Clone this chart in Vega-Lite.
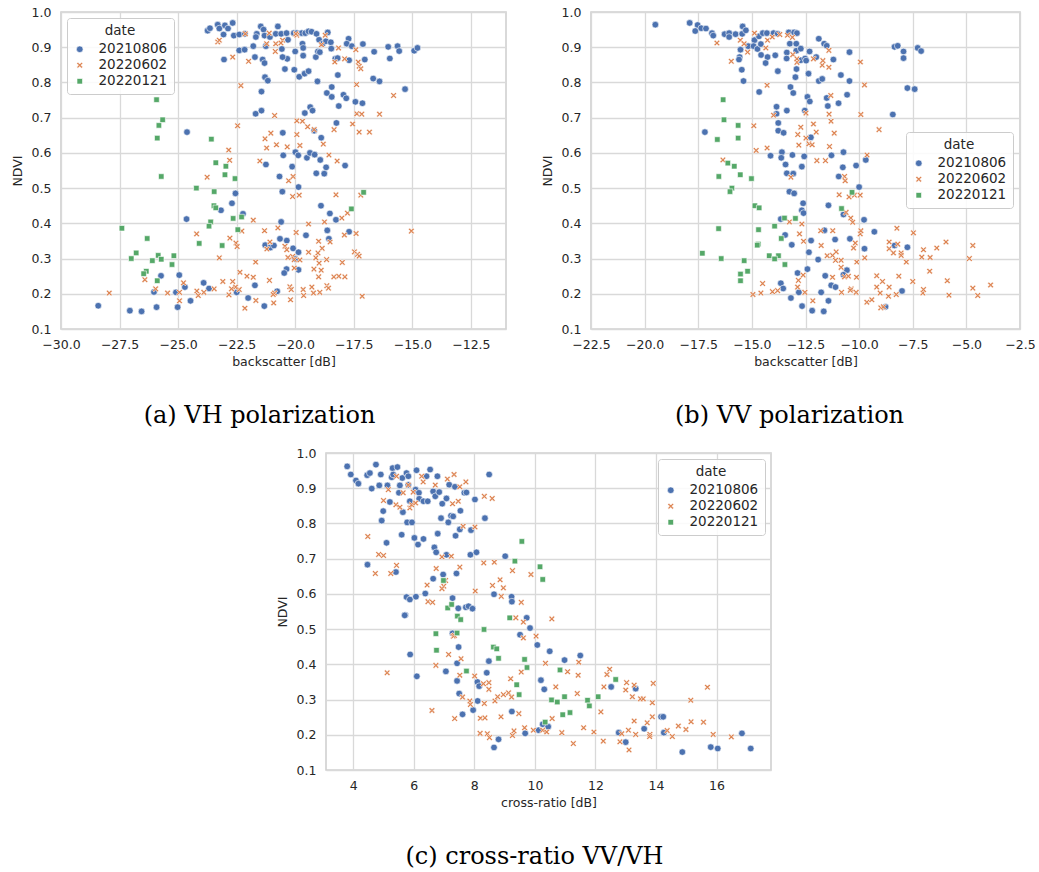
{
"$schema":"https://vega.github.io/schema/vega-lite/v6.json",
"padding":{"left":10,"top":5,"right":5,"bottom":5},
"background":"white",
"config":{
 "font":"DejaVu Sans",
 "view":{"stroke":"#d0d0d0","strokeWidth":1.6},
 "axis":{"grid":true,"gridColor":"#d9d9d9","gridWidth":1.3,"domain":false,"ticks":false,"tickSize":0,"labelFont":"DejaVu Sans","labelFontSize":12.5,"labelColor":"#262626","titleFont":"DejaVu Sans","titleFontSize":12.5,"titleFontWeight":"normal","titleColor":"#262626","labelOverlap":false,"labelFlush":false},
 "axisX":{"titlePadding":5,"labelPadding":9},
 "axisY":{"titlePadding":7,"labelPadding":10},
 "legend":{"titleFont":"DejaVu Sans","titleFontSize":13.5,"titleFontWeight":"normal","titleColor":"#262626","labelFont":"DejaVu Sans","labelFontSize":13.5,"labelColor":"#262626","titleAnchor":"middle","fillColor":"rgba(255,255,255,0.85)","strokeColor":"#cccccc","cornerRadius":3,"padding":6,"rowPadding":1,"labelOffset":12,"symbolStrokeColor":"white","symbolStrokeWidth":0.6},
 "title":{"font":"DejaVu Serif","fontSize":24,"fontWeight":"normal","color":"#000000","orient":"bottom","offset":36,"frame":"group","anchor":"middle"}
},
"resolve":{"scale":{"color":"independent","shape":"independent","size":"independent"},"legend":{"color":"independent","shape":"independent","size":"independent"}},
"spacing":17,
"vconcat":[
{"hconcat":[
{"title":{"text":"(a) VH polarization","dx":-24},"width":445,"height":317,
 "data":{"values":[
{"date":"20210806","bs":-23.74,"ndvi":0.947},{"date":"20210806","bs":-23.64,"ndvi":0.954},{"date":"20210806","bs":-23.31,"ndvi":0.964},{"date":"20210806","bs":-23.24,"ndvi":0.953},{"date":"20210806","bs":-23.0,"ndvi":0.962},{"date":"20210806","bs":-22.87,"ndvi":0.953},{"date":"20210806","bs":-22.67,"ndvi":0.969},{"date":"20210806","bs":-23.06,"ndvi":0.936},{"date":"20210806","bs":-22.62,"ndvi":0.933},{"date":"20210806","bs":-22.39,"ndvi":0.936},{"date":"20210806","bs":-22.15,"ndvi":0.938},{"date":"20210806","bs":-21.47,"ndvi":0.959},{"date":"20210806","bs":-21.35,"ndvi":0.95},{"date":"20210806","bs":-21.64,"ndvi":0.938},{"date":"20210806","bs":-21.68,"ndvi":0.929},{"date":"20210806","bs":-21.31,"ndvi":0.933},{"date":"20210806","bs":-21.08,"ndvi":0.929},{"date":"20210806","bs":-20.74,"ndvi":0.959},{"date":"20210806","bs":-20.83,"ndvi":0.938},{"date":"20210806","bs":-20.6,"ndvi":0.938},{"date":"20210806","bs":-20.37,"ndvi":0.94},{"date":"20210806","bs":-20.31,"ndvi":0.921},{"date":"20210806","bs":-20.06,"ndvi":0.94},{"date":"20210806","bs":-19.93,"ndvi":0.94},{"date":"20210806","bs":-19.72,"ndvi":0.94},{"date":"20210806","bs":-19.57,"ndvi":0.94},{"date":"20210806","bs":-19.43,"ndvi":0.945},{"date":"20210806","bs":-19.3,"ndvi":0.944},{"date":"20210806","bs":-19.09,"ndvi":0.938},{"date":"20210806","bs":-18.98,"ndvi":0.921},{"date":"20210806","bs":-18.83,"ndvi":0.91},{"date":"20210806","bs":-18.61,"ndvi":0.942},{"date":"20210806","bs":-18.69,"ndvi":0.917},{"date":"20210806","bs":-18.48,"ndvi":0.914},{"date":"20210806","bs":-17.72,"ndvi":0.924},{"date":"20210806","bs":-17.8,"ndvi":0.91},{"date":"20210806","bs":-17.58,"ndvi":0.903},{"date":"20210806","bs":-17.11,"ndvi":0.909},{"date":"20210806","bs":-20.34,"ndvi":0.867},{"date":"20210806","bs":-23.04,"ndvi":0.865},{"date":"20210806","bs":-22.39,"ndvi":0.891},{"date":"20210806","bs":-22.16,"ndvi":0.893},{"date":"20210806","bs":-21.79,"ndvi":0.903},{"date":"20210806","bs":-21.72,"ndvi":0.872},{"date":"20210806","bs":-21.39,"ndvi":0.865},{"date":"20210806","bs":-21.31,"ndvi":0.855},{"date":"20210806","bs":-21.25,"ndvi":0.903},{"date":"20210806","bs":-20.57,"ndvi":0.895},{"date":"20210806","bs":-20.54,"ndvi":0.872},{"date":"20210806","bs":-20.0,"ndvi":0.888},{"date":"20210806","bs":-19.69,"ndvi":0.91},{"date":"20210806","bs":-19.66,"ndvi":0.876},{"date":"20210806","bs":-19.66,"ndvi":0.898},{"date":"20210806","bs":-19.12,"ndvi":0.872},{"date":"20210806","bs":-19.03,"ndvi":0.888},{"date":"20210806","bs":-18.95,"ndvi":0.886},{"date":"20210806","bs":-18.46,"ndvi":0.896},{"date":"20210806","bs":-18.29,"ndvi":0.867},{"date":"20210806","bs":-18.19,"ndvi":0.869},{"date":"20210806","bs":-17.7,"ndvi":0.863},{"date":"20210806","bs":-17.03,"ndvi":0.865},{"date":"20210806","bs":-16.63,"ndvi":0.887},{"date":"20210806","bs":-16.03,"ndvi":0.901},{"date":"20210806","bs":-15.96,"ndvi":0.868},{"date":"20210806","bs":-15.63,"ndvi":0.903},{"date":"20210806","bs":-15.56,"ndvi":0.889},{"date":"20210806","bs":-14.92,"ndvi":0.89},{"date":"20210806","bs":-14.78,"ndvi":0.898},{"date":"20210806","bs":-15.31,"ndvi":0.781},{"date":"20210806","bs":-21.29,"ndvi":0.815},{"date":"20210806","bs":-21.17,"ndvi":0.805},{"date":"20210806","bs":-21.44,"ndvi":0.774},{"date":"20210806","bs":-20.44,"ndvi":0.838},{"date":"20210806","bs":-20.04,"ndvi":0.836},{"date":"20210806","bs":-19.83,"ndvi":0.816},{"date":"20210806","bs":-19.6,"ndvi":0.825},{"date":"20210806","bs":-19.43,"ndvi":0.832},{"date":"20210806","bs":-19.05,"ndvi":0.803},{"date":"20210806","bs":-18.18,"ndvi":0.821},{"date":"20210806","bs":-18.65,"ndvi":0.77},{"date":"20210806","bs":-18.44,"ndvi":0.787},{"date":"20210806","bs":-18.44,"ndvi":0.759},{"date":"20210806","bs":-17.94,"ndvi":0.765},{"date":"20210806","bs":-17.82,"ndvi":0.755},{"date":"20210806","bs":-17.43,"ndvi":0.745},{"date":"20210806","bs":-17.13,"ndvi":0.741},{"date":"20210806","bs":-18.14,"ndvi":0.733},{"date":"20210806","bs":-16.67,"ndvi":0.811},{"date":"20210806","bs":-16.4,"ndvi":0.803},{"date":"20210806","bs":-21.69,"ndvi":0.711},{"date":"20210806","bs":-21.44,"ndvi":0.72},{"date":"20210806","bs":-19.59,"ndvi":0.713},{"date":"20210806","bs":-19.36,"ndvi":0.73},{"date":"20210806","bs":-19.26,"ndvi":0.72},{"date":"20210806","bs":-19.19,"ndvi":0.663},{"date":"20210806","bs":-18.89,"ndvi":0.643},{"date":"20210806","bs":-18.24,"ndvi":0.685},{"date":"20210806","bs":-20.53,"ndvi":0.657},{"date":"20210806","bs":-20.51,"ndvi":0.593},{"date":"20210806","bs":-19.99,"ndvi":0.602},{"date":"20210806","bs":-19.87,"ndvi":0.593},{"date":"20210806","bs":-19.5,"ndvi":0.586},{"date":"20210806","bs":-19.37,"ndvi":0.6},{"date":"20210806","bs":-19.17,"ndvi":0.595},{"date":"20210806","bs":-18.93,"ndvi":0.58},{"date":"20210806","bs":-18.68,"ndvi":0.559},{"date":"20210806","bs":-17.87,"ndvi":0.564},{"date":"20210806","bs":-20.13,"ndvi":0.561},{"date":"20210806","bs":-20.67,"ndvi":0.533},{"date":"20210806","bs":-19.1,"ndvi":0.542},{"date":"20210806","bs":-18.76,"ndvi":0.541},{"date":"20210806","bs":-21.25,"ndvi":0.567},{"date":"20210806","bs":-24.62,"ndvi":0.659},{"date":"20210806","bs":-19.86,"ndvi":0.503},{"date":"20210806","bs":-20.55,"ndvi":0.49},{"date":"20210806","bs":-22.55,"ndvi":0.485},{"date":"20210806","bs":-22.7,"ndvi":0.457},{"date":"20210806","bs":-23.17,"ndvi":0.437},{"date":"20210806","bs":-22.23,"ndvi":0.427},{"date":"20210806","bs":-24.64,"ndvi":0.412},{"date":"20210806","bs":-18.52,"ndvi":0.428},{"date":"20210806","bs":-18.26,"ndvi":0.41},{"date":"20210806","bs":-18.9,"ndvi":0.45},{"date":"20210806","bs":-20.6,"ndvi":0.404},{"date":"20210806","bs":-18.63,"ndvi":0.38},{"date":"20210806","bs":-17.7,"ndvi":0.376},{"date":"20210806","bs":-19.54,"ndvi":0.366},{"date":"20210806","bs":-18.56,"ndvi":0.356},{"date":"20210806","bs":-20.65,"ndvi":0.356},{"date":"20210806","bs":-20.36,"ndvi":0.351},{"date":"20210806","bs":-21.28,"ndvi":0.338},{"date":"20210806","bs":-21.07,"ndvi":0.331},{"date":"20210806","bs":-20.91,"ndvi":0.337},{"date":"20210806","bs":-20.09,"ndvi":0.329},{"date":"20210806","bs":-19.86,"ndvi":0.318},{"date":"20210806","bs":-20.37,"ndvi":0.27},{"date":"20210806","bs":-20.47,"ndvi":0.259},{"date":"20210806","bs":-19.86,"ndvi":0.268},{"date":"20210806","bs":-20.0,"ndvi":0.299},{"date":"20210806","bs":-24.95,"ndvi":0.253},{"date":"20210806","bs":-25.73,"ndvi":0.251},{"date":"20210806","bs":-26.03,"ndvi":0.205},{"date":"20210806","bs":-25.09,"ndvi":0.204},{"date":"20210806","bs":-24.71,"ndvi":0.219},{"date":"20210806","bs":-23.91,"ndvi":0.231},{"date":"20210806","bs":-23.68,"ndvi":0.215},{"date":"20210806","bs":-22.5,"ndvi":0.204},{"date":"20210806","bs":-21.72,"ndvi":0.224},{"date":"20210806","bs":-20.77,"ndvi":0.207},{"date":"20210806","bs":-22.01,"ndvi":0.188},{"date":"20210806","bs":-24.47,"ndvi":0.18},{"date":"20210806","bs":-21.32,"ndvi":0.165},{"date":"20210806","bs":-25.92,"ndvi":0.162},{"date":"20210806","bs":-25.02,"ndvi":0.162},{"date":"20210806","bs":-27.06,"ndvi":0.152},{"date":"20210806","bs":-26.56,"ndvi":0.15},{"date":"20210806","bs":-28.41,"ndvi":0.166},
{"date":"20220602","bs":-23.31,"ndvi":0.915},{"date":"20220602","bs":-23.24,"ndvi":0.92},{"date":"20220602","bs":-22.67,"ndvi":0.872},{"date":"20220602","bs":-22.13,"ndvi":0.938},{"date":"20220602","bs":-21.99,"ndvi":0.86},{"date":"20220602","bs":-22.32,"ndvi":0.791},{"date":"20220602","bs":-22.46,"ndvi":0.677},{"date":"20220602","bs":-21.22,"ndvi":0.91},{"date":"20220602","bs":-21.11,"ndvi":0.94},{"date":"20220602","bs":-20.83,"ndvi":0.91},{"date":"20220602","bs":-20.54,"ndvi":0.92},{"date":"20220602","bs":-20.61,"ndvi":0.912},{"date":"20220602","bs":-20.85,"ndvi":0.888},{"date":"20220602","bs":-19.93,"ndvi":0.934},{"date":"20220602","bs":-19.97,"ndvi":0.938},{"date":"20220602","bs":-18.72,"ndvi":0.934},{"date":"20220602","bs":-18.88,"ndvi":0.907},{"date":"20220602","bs":-18.15,"ndvi":0.898},{"date":"20220602","bs":-18.31,"ndvi":0.858},{"date":"20220602","bs":-17.89,"ndvi":0.867},{"date":"20220602","bs":-17.41,"ndvi":0.893},{"date":"20220602","bs":-17.31,"ndvi":0.858},{"date":"20220602","bs":-17.27,"ndvi":0.846},{"date":"20220602","bs":-17.2,"ndvi":0.839},{"date":"20220602","bs":-17.38,"ndvi":0.794},{"date":"20220602","bs":-15.8,"ndvi":0.763},{"date":"20220602","bs":-19.93,"ndvi":0.691},{"date":"20220602","bs":-19.69,"ndvi":0.69},{"date":"20220602","bs":-19.47,"ndvi":0.674},{"date":"20220602","bs":-20.88,"ndvi":0.706},{"date":"20220602","bs":-19.19,"ndvi":0.666},{"date":"20220602","bs":-17.37,"ndvi":0.711},{"date":"20220602","bs":-17.16,"ndvi":0.71},{"date":"20220602","bs":-16.4,"ndvi":0.71},{"date":"20220602","bs":-17.55,"ndvi":0.682},{"date":"20220602","bs":-17.27,"ndvi":0.659},{"date":"20220602","bs":-16.83,"ndvi":0.659},{"date":"20220602","bs":-18.34,"ndvi":0.666},{"date":"20220602","bs":-21.04,"ndvi":0.656},{"date":"20220602","bs":-21.29,"ndvi":0.64},{"date":"20220602","bs":-21.22,"ndvi":0.614},{"date":"20220602","bs":-20.8,"ndvi":0.623},{"date":"20220602","bs":-20.34,"ndvi":0.617},{"date":"20220602","bs":-19.93,"ndvi":0.652},{"date":"20220602","bs":-19.8,"ndvi":0.621},{"date":"20220602","bs":-18.8,"ndvi":0.625},{"date":"20220602","bs":-18.56,"ndvi":0.594},{"date":"20220602","bs":-18.21,"ndvi":0.577},{"date":"20220602","bs":-21.51,"ndvi":0.577},{"date":"20220602","bs":-22.84,"ndvi":0.608},{"date":"20220602","bs":-22.8,"ndvi":0.579},{"date":"20220602","bs":-23.76,"ndvi":0.531},{"date":"20220602","bs":-20.28,"ndvi":0.521},{"date":"20220602","bs":-20.09,"ndvi":0.533},{"date":"20220602","bs":-20.11,"ndvi":0.476},{"date":"20220602","bs":-19.83,"ndvi":0.48},{"date":"20220602","bs":-18.26,"ndvi":0.481},{"date":"20220602","bs":-17.2,"ndvi":0.48},{"date":"20220602","bs":-15.04,"ndvi":0.378},{"date":"20220602","bs":-21.79,"ndvi":0.409},{"date":"20220602","bs":-23.6,"ndvi":0.404},{"date":"20220602","bs":-24.21,"ndvi":0.37},{"date":"20220602","bs":-22.79,"ndvi":0.358},{"date":"20220602","bs":-22.53,"ndvi":0.344},{"date":"20220602","bs":-22.48,"ndvi":0.334},{"date":"20220602","bs":-22.28,"ndvi":0.378},{"date":"20220602","bs":-21.31,"ndvi":0.379},{"date":"20220602","bs":-20.74,"ndvi":0.387},{"date":"20220602","bs":-21.08,"ndvi":0.347},{"date":"20220602","bs":-21.21,"ndvi":0.327},{"date":"20220602","bs":-20.44,"ndvi":0.335},{"date":"20220602","bs":-20.36,"ndvi":0.325},{"date":"20220602","bs":-19.96,"ndvi":0.374},{"date":"20220602","bs":-19.43,"ndvi":0.398},{"date":"20220602","bs":-18.75,"ndvi":0.404},{"date":"20220602","bs":-18.01,"ndvi":0.415},{"date":"20220602","bs":-17.77,"ndvi":0.429},{"date":"20220602","bs":-17.4,"ndvi":0.371},{"date":"20220602","bs":-17.9,"ndvi":0.367},{"date":"20220602","bs":-19.0,"ndvi":0.349},{"date":"20220602","bs":-18.85,"ndvi":0.329},{"date":"20220602","bs":-18.51,"ndvi":0.347},{"date":"20220602","bs":-19.03,"ndvi":0.316},{"date":"20220602","bs":-19.43,"ndvi":0.318},{"date":"20220602","bs":-20.31,"ndvi":0.303},{"date":"20220602","bs":-20.11,"ndvi":0.306},{"date":"20220602","bs":-20.04,"ndvi":0.297},{"date":"20220602","bs":-19.8,"ndvi":0.296},{"date":"20220602","bs":-19.12,"ndvi":0.302},{"date":"20220602","bs":-18.98,"ndvi":0.287},{"date":"20220602","bs":-18.66,"ndvi":0.297},{"date":"20220602","bs":-17.99,"ndvi":0.289},{"date":"20220602","bs":-17.47,"ndvi":0.319},{"date":"20220602","bs":-17.34,"ndvi":0.312},{"date":"20220602","bs":-17.27,"ndvi":0.307},{"date":"20220602","bs":-23.24,"ndvi":0.302},{"date":"20220602","bs":-21.69,"ndvi":0.29},{"date":"20220602","bs":-20.04,"ndvi":0.273},{"date":"20220602","bs":-19.2,"ndvi":0.27},{"date":"20220602","bs":-18.89,"ndvi":0.267},{"date":"20220602","bs":-18.35,"ndvi":0.248},{"date":"20220602","bs":-18.14,"ndvi":0.25},{"date":"20220602","bs":-17.88,"ndvi":0.248},{"date":"20220602","bs":-19.0,"ndvi":0.248},{"date":"20220602","bs":-22.36,"ndvi":0.261},{"date":"20220602","bs":-22.06,"ndvi":0.25},{"date":"20220602","bs":-21.79,"ndvi":0.247},{"date":"20220602","bs":-23.09,"ndvi":0.235},{"date":"20220602","bs":-22.67,"ndvi":0.235},{"date":"20220602","bs":-21.1,"ndvi":0.238},{"date":"20220602","bs":-18.65,"ndvi":0.223},{"date":"20220602","bs":-18.58,"ndvi":0.216},{"date":"20220602","bs":-19.29,"ndvi":0.219},{"date":"20220602","bs":-19.66,"ndvi":0.212},{"date":"20220602","bs":-20.23,"ndvi":0.22},{"date":"20220602","bs":-20.17,"ndvi":0.212},{"date":"20220602","bs":-20.2,"ndvi":0.183},{"date":"20220602","bs":-20.88,"ndvi":0.202},{"date":"20220602","bs":-20.94,"ndvi":0.198},{"date":"20220602","bs":-20.92,"ndvi":0.174},{"date":"20220602","bs":-21.68,"ndvi":0.181},{"date":"20220602","bs":-22.15,"ndvi":0.159},{"date":"20220602","bs":-22.39,"ndvi":0.212},{"date":"20220602","bs":-22.55,"ndvi":0.219},{"date":"20220602","bs":-22.72,"ndvi":0.214},{"date":"20220602","bs":-22.83,"ndvi":0.197},{"date":"20220602","bs":-23.46,"ndvi":0.214},{"date":"20220602","bs":-23.9,"ndvi":0.204},{"date":"20220602","bs":-24.2,"ndvi":0.208},{"date":"20220602","bs":-24.14,"ndvi":0.195},{"date":"20220602","bs":-24.94,"ndvi":0.204},{"date":"20220602","bs":-24.94,"ndvi":0.18},{"date":"20220602","bs":-24.77,"ndvi":0.231},{"date":"20220602","bs":-25.45,"ndvi":0.202},{"date":"20220602","bs":-25.96,"ndvi":0.214},{"date":"20220602","bs":-26.42,"ndvi":0.24},{"date":"20220602","bs":-27.94,"ndvi":0.202},{"date":"20220602","bs":-17.14,"ndvi":0.193},{"date":"20220602","bs":-19.22,"ndvi":0.202},{"date":"20220602","bs":-19.64,"ndvi":0.195},{"date":"20220602","bs":-18.95,"ndvi":0.204},
{"date":"20220121","bs":-25.92,"ndvi":0.751},{"date":"20220121","bs":-25.66,"ndvi":0.694},{"date":"20220121","bs":-25.82,"ndvi":0.678},{"date":"20220121","bs":-25.89,"ndvi":0.642},{"date":"20220121","bs":-23.58,"ndvi":0.639},{"date":"20220121","bs":-25.72,"ndvi":0.533},{"date":"20220121","bs":-23.39,"ndvi":0.572},{"date":"20220121","bs":-22.96,"ndvi":0.562},{"date":"20220121","bs":-23.0,"ndvi":0.538},{"date":"20220121","bs":-22.57,"ndvi":0.527},{"date":"20220121","bs":-24.22,"ndvi":0.5},{"date":"20220121","bs":-23.46,"ndvi":0.49},{"date":"20220121","bs":-23.47,"ndvi":0.45},{"date":"20220121","bs":-23.39,"ndvi":0.444},{"date":"20220121","bs":-23.12,"ndvi":0.337},{"date":"20220121","bs":-22.65,"ndvi":0.414},{"date":"20220121","bs":-22.29,"ndvi":0.418},{"date":"20220121","bs":-23.61,"ndvi":0.404},{"date":"20220121","bs":-23.68,"ndvi":0.392},{"date":"20220121","bs":-22.45,"ndvi":0.382},{"date":"20220121","bs":-24.1,"ndvi":0.343},{"date":"20220121","bs":-27.4,"ndvi":0.386},{"date":"20220121","bs":-26.32,"ndvi":0.357},{"date":"20220121","bs":-26.79,"ndvi":0.316},{"date":"20220121","bs":-27.0,"ndvi":0.3},{"date":"20220121","bs":-25.85,"ndvi":0.309},{"date":"20220121","bs":-25.72,"ndvi":0.298},{"date":"20220121","bs":-26.1,"ndvi":0.294},{"date":"20220121","bs":-25.18,"ndvi":0.308},{"date":"20220121","bs":-25.26,"ndvi":0.283},{"date":"20220121","bs":-26.36,"ndvi":0.264},{"date":"20220121","bs":-26.47,"ndvi":0.257},{"date":"20220121","bs":-25.89,"ndvi":0.237},{"date":"20220121","bs":-17.6,"ndvi":0.441},{"date":"20220121","bs":-17.08,"ndvi":0.488}
 ]},
 "mark":{"type":"point","filled":true,"opacity":1,"stroke":"white","strokeWidth":0.6},
 "encoding":{
  "x":{"field":"bs","type":"quantitative","scale":{"domain":[-30,-11],"nice":false,"zero":false},"axis":{"title":"backscatter [dB]","values":[-30,-27.5,-25,-22.5,-20,-17.5,-15,-12.5],"format":".1f"}},
  "y":{"field":"ndvi","type":"quantitative","scale":{"domain":[0.1,1.0],"nice":false,"zero":false},"axis":{"title":"NDVI","values":[0.1,0.2,0.3,0.4,0.5,0.6,0.7,0.8,0.9,1.0],"format":".1f"}},
  "color":{"field":"date","type":"nominal","title":"date","scale":{"domain":["20210806","20220602","20220121"],"range":["#4c72b0","#dd8452","#55a868"]},"legend":{"orient":"top-left","offset":6}},
  "shape":{"field":"date","type":"nominal","title":"date","scale":{"domain":["20210806","20220602","20220121"],"range":["circle","M-0.6,-1L0,-0.4L0.6,-1L1,-0.6L0.4,0L1,0.6L0.6,1L0,0.4L-0.6,1L-1,0.6L-0.4,0L-1,-0.6Z","square"]},"legend":{"orient":"top-left","offset":6}},
  "size":{"field":"date","type":"nominal","title":"date","scale":{"domain":["20210806","20220602","20220121"],"range":[44,30,18]},"legend":{"orient":"top-left","offset":6}}
 }
},
{"title":{"text":"(b) VV polarization","dx":-16},"width":429,"height":317,
 "data":{"values":[
{"date":"20210806","bs":-19.5,"ndvi":0.964},{"date":"20210806","bs":-17.9,"ndvi":0.969},{"date":"20210806","bs":-17.53,"ndvi":0.963},{"date":"20210806","bs":-17.64,"ndvi":0.946},{"date":"20210806","bs":-17.36,"ndvi":0.954},{"date":"20210806","bs":-17.14,"ndvi":0.953},{"date":"20210806","bs":-16.86,"ndvi":0.94},{"date":"20210806","bs":-16.8,"ndvi":0.933},{"date":"20210806","bs":-16.27,"ndvi":0.937},{"date":"20210806","bs":-16.06,"ndvi":0.94},{"date":"20210806","bs":-16.06,"ndvi":0.929},{"date":"20210806","bs":-15.76,"ndvi":0.937},{"date":"20210806","bs":-15.43,"ndvi":0.959},{"date":"20210806","bs":-15.45,"ndvi":0.938},{"date":"20210806","bs":-15.28,"ndvi":0.948},{"date":"20210806","bs":-15.53,"ndvi":0.893},{"date":"20210806","bs":-15.57,"ndvi":0.872},{"date":"20210806","bs":-15.6,"ndvi":0.865},{"date":"20210806","bs":-15.17,"ndvi":0.903},{"date":"20210806","bs":-14.88,"ndvi":0.92},{"date":"20210806","bs":-14.67,"ndvi":0.931},{"date":"20210806","bs":-14.92,"ndvi":0.903},{"date":"20210806","bs":-14.74,"ndvi":0.895},{"date":"20210806","bs":-14.58,"ndvi":0.909},{"date":"20210806","bs":-14.49,"ndvi":0.94},{"date":"20210806","bs":-14.3,"ndvi":0.94},{"date":"20210806","bs":-13.99,"ndvi":0.94},{"date":"20210806","bs":-13.8,"ndvi":0.938},{"date":"20210806","bs":-14.57,"ndvi":0.878},{"date":"20210806","bs":-14.27,"ndvi":0.872},{"date":"20210806","bs":-14.36,"ndvi":0.855},{"date":"20210806","bs":-13.91,"ndvi":0.877},{"date":"20210806","bs":-13.28,"ndvi":0.942},{"date":"20210806","bs":-13.03,"ndvi":0.942},{"date":"20210806","bs":-12.9,"ndvi":0.94},{"date":"20210806","bs":-13.23,"ndvi":0.91},{"date":"20210806","bs":-12.93,"ndvi":0.91},{"date":"20210806","bs":-13.37,"ndvi":0.885},{"date":"20210806","bs":-12.93,"ndvi":0.89},{"date":"20210806","bs":-12.72,"ndvi":0.896},{"date":"20210806","bs":-13.38,"ndvi":0.868},{"date":"20210806","bs":-12.72,"ndvi":0.863},{"date":"20210806","bs":-12.52,"ndvi":0.868},{"date":"20210806","bs":-12.47,"ndvi":0.862},{"date":"20210806","bs":-12.31,"ndvi":0.888},{"date":"20210806","bs":-12.0,"ndvi":0.872},{"date":"20210806","bs":-11.88,"ndvi":0.924},{"date":"20210806","bs":-11.63,"ndvi":0.91},{"date":"20210806","bs":-11.51,"ndvi":0.904},{"date":"20210806","bs":-11.2,"ndvi":0.865},{"date":"20210806","bs":-10.45,"ndvi":0.886},{"date":"20210806","bs":-8.35,"ndvi":0.901},{"date":"20210806","bs":-8.2,"ndvi":0.904},{"date":"20210806","bs":-7.93,"ndvi":0.888},{"date":"20210806","bs":-7.93,"ndvi":0.869},{"date":"20210806","bs":-7.27,"ndvi":0.898},{"date":"20210806","bs":-7.11,"ndvi":0.889},{"date":"20210806","bs":-15.47,"ndvi":0.836},{"date":"20210806","bs":-15.39,"ndvi":0.804},{"date":"20210806","bs":-14.66,"ndvi":0.773},{"date":"20210806","bs":-13.79,"ndvi":0.832},{"date":"20210806","bs":-12.92,"ndvi":0.838},{"date":"20210806","bs":-12.36,"ndvi":0.825},{"date":"20210806","bs":-12.97,"ndvi":0.815},{"date":"20210806","bs":-13.2,"ndvi":0.787},{"date":"20210806","bs":-13.07,"ndvi":0.77},{"date":"20210806","bs":-12.41,"ndvi":0.759},{"date":"20210806","bs":-12.3,"ndvi":0.746},{"date":"20210806","bs":-11.88,"ndvi":0.804},{"date":"20210806","bs":-11.72,"ndvi":0.81},{"date":"20210806","bs":-11.51,"ndvi":0.756},{"date":"20210806","bs":-11.46,"ndvi":0.733},{"date":"20210806","bs":-10.96,"ndvi":0.741},{"date":"20210806","bs":-10.85,"ndvi":0.821},{"date":"20210806","bs":-10.45,"ndvi":0.804},{"date":"20210806","bs":-10.56,"ndvi":0.765},{"date":"20210806","bs":-7.75,"ndvi":0.784},{"date":"20210806","bs":-7.41,"ndvi":0.781},{"date":"20210806","bs":-8.43,"ndvi":0.709},{"date":"20210806","bs":-13.85,"ndvi":0.731},{"date":"20210806","bs":-13.85,"ndvi":0.711},{"date":"20210806","bs":-13.37,"ndvi":0.72},{"date":"20210806","bs":-13.77,"ndvi":0.685},{"date":"20210806","bs":-13.77,"ndvi":0.663},{"date":"20210806","bs":-13.52,"ndvi":0.657},{"date":"20210806","bs":-12.53,"ndvi":0.72},{"date":"20210806","bs":-12.25,"ndvi":0.644},{"date":"20210806","bs":-17.19,"ndvi":0.659},{"date":"20210806","bs":-14.13,"ndvi":0.592},{"date":"20210806","bs":-13.6,"ndvi":0.602},{"date":"20210806","bs":-13.63,"ndvi":0.586},{"date":"20210806","bs":-13.11,"ndvi":0.594},{"date":"20210806","bs":-12.56,"ndvi":0.59},{"date":"20210806","bs":-13.43,"ndvi":0.567},{"date":"20210806","bs":-13.37,"ndvi":0.542},{"date":"20210806","bs":-13.07,"ndvi":0.541},{"date":"20210806","bs":-12.67,"ndvi":0.561},{"date":"20210806","bs":-11.29,"ndvi":0.593},{"date":"20210806","bs":-10.73,"ndvi":0.602},{"date":"20210806","bs":-10.76,"ndvi":0.559},{"date":"20210806","bs":-10.95,"ndvi":0.533},{"date":"20210806","bs":-10.14,"ndvi":0.564},{"date":"20210806","bs":-9.69,"ndvi":0.58},{"date":"20210806","bs":-10.0,"ndvi":0.503},{"date":"20210806","bs":-13.25,"ndvi":0.49},{"date":"20210806","bs":-13.03,"ndvi":0.485},{"date":"20210806","bs":-12.61,"ndvi":0.457},{"date":"20210806","bs":-12.67,"ndvi":0.437},{"date":"20210806","bs":-12.59,"ndvi":0.429},{"date":"20210806","bs":-11.43,"ndvi":0.451},{"date":"20210806","bs":-10.73,"ndvi":0.425},{"date":"20210806","bs":-9.77,"ndvi":0.41},{"date":"20210806","bs":-13.65,"ndvi":0.412},{"date":"20210806","bs":-13.45,"ndvi":0.367},{"date":"20210806","bs":-13.14,"ndvi":0.339},{"date":"20210806","bs":-12.24,"ndvi":0.351},{"date":"20210806","bs":-11.62,"ndvi":0.38},{"date":"20210806","bs":-11.12,"ndvi":0.354},{"date":"20210806","bs":-10.43,"ndvi":0.356},{"date":"20210806","bs":-9.29,"ndvi":0.376},{"date":"20210806","bs":-9.75,"ndvi":0.328},{"date":"20210806","bs":-8.35,"ndvi":0.337},{"date":"20210806","bs":-7.75,"ndvi":0.332},{"date":"20210806","bs":-12.34,"ndvi":0.318},{"date":"20210806","bs":-11.91,"ndvi":0.297},{"date":"20210806","bs":-12.41,"ndvi":0.27},{"date":"20210806","bs":-12.87,"ndvi":0.259},{"date":"20210806","bs":-10.57,"ndvi":0.267},{"date":"20210806","bs":-10.73,"ndvi":0.254},{"date":"20210806","bs":-11.58,"ndvi":0.251},{"date":"20210806","bs":-13.65,"ndvi":0.23},{"date":"20210806","bs":-13.54,"ndvi":0.215},{"date":"20210806","bs":-12.81,"ndvi":0.204},{"date":"20210806","bs":-11.3,"ndvi":0.224},{"date":"20210806","bs":-11.1,"ndvi":0.219},{"date":"20210806","bs":-11.77,"ndvi":0.204},{"date":"20210806","bs":-13.18,"ndvi":0.188},{"date":"20210806","bs":-11.43,"ndvi":0.18},{"date":"20210806","bs":-12.66,"ndvi":0.165},{"date":"20210806","bs":-12.19,"ndvi":0.152},{"date":"20210806","bs":-11.65,"ndvi":0.15},{"date":"20210806","bs":-8.0,"ndvi":0.208},{"date":"20210806","bs":-8.77,"ndvi":0.163},
{"date":"20220602","bs":-16.63,"ndvi":0.912},{"date":"20220602","bs":-15.96,"ndvi":0.86},{"date":"20220602","bs":-15.54,"ndvi":0.92},{"date":"20220602","bs":-15.36,"ndvi":0.91},{"date":"20220602","bs":-15.2,"ndvi":0.886},{"date":"20220602","bs":-14.88,"ndvi":0.94},{"date":"20220602","bs":-14.35,"ndvi":0.898},{"date":"20220602","bs":-14.27,"ndvi":0.92},{"date":"20220602","bs":-14.05,"ndvi":0.929},{"date":"20220602","bs":-13.7,"ndvi":0.936},{"date":"20220602","bs":-13.34,"ndvi":0.934},{"date":"20220602","bs":-13.11,"ndvi":0.928},{"date":"20220602","bs":-13.09,"ndvi":0.879},{"date":"20220602","bs":-12.9,"ndvi":0.857},{"date":"20220602","bs":-12.9,"ndvi":0.867},{"date":"20220602","bs":-12.13,"ndvi":0.867},{"date":"20220602","bs":-11.72,"ndvi":0.849},{"date":"20220602","bs":-11.69,"ndvi":0.862},{"date":"20220602","bs":-11.41,"ndvi":0.891},{"date":"20220602","bs":-11.41,"ndvi":0.843},{"date":"20220602","bs":-11.32,"ndvi":0.763},{"date":"20220602","bs":-9.94,"ndvi":0.858},{"date":"20220602","bs":-9.75,"ndvi":0.793},{"date":"20220602","bs":-14.29,"ndvi":0.792},{"date":"20220602","bs":-14.91,"ndvi":0.677},{"date":"20220602","bs":-13.99,"ndvi":0.707},{"date":"20220602","bs":-12.48,"ndvi":0.713},{"date":"20220602","bs":-11.4,"ndvi":0.71},{"date":"20220602","bs":-11.31,"ndvi":0.69},{"date":"20220602","bs":-9.92,"ndvi":0.709},{"date":"20220602","bs":-9.07,"ndvi":0.666},{"date":"20220602","bs":-12.72,"ndvi":0.673},{"date":"20220602","bs":-12.13,"ndvi":0.682},{"date":"20220602","bs":-12.0,"ndvi":0.659},{"date":"20220602","bs":-12.86,"ndvi":0.652},{"date":"20220602","bs":-11.16,"ndvi":0.656},{"date":"20220602","bs":-12.48,"ndvi":0.642},{"date":"20220602","bs":-12.81,"ndvi":0.622},{"date":"20220602","bs":-12.34,"ndvi":0.626},{"date":"20220602","bs":-12.19,"ndvi":0.623},{"date":"20220602","bs":-11.38,"ndvi":0.618},{"date":"20220602","bs":-14.29,"ndvi":0.614},{"date":"20220602","bs":-14.8,"ndvi":0.607},{"date":"20220602","bs":-16.35,"ndvi":0.58},{"date":"20220602","bs":-11.97,"ndvi":0.578},{"date":"20220602","bs":-11.57,"ndvi":0.578},{"date":"20220602","bs":-9.63,"ndvi":0.594},{"date":"20220602","bs":-13.18,"ndvi":0.531},{"date":"20220602","bs":-10.68,"ndvi":0.533},{"date":"20220602","bs":-10.65,"ndvi":0.521},{"date":"20220602","bs":-10.93,"ndvi":0.481},{"date":"20220602","bs":-10.47,"ndvi":0.475},{"date":"20220602","bs":-10.22,"ndvi":0.48},{"date":"20220602","bs":-9.95,"ndvi":0.48},{"date":"20220602","bs":-10.61,"ndvi":0.431},{"date":"20220602","bs":-10.39,"ndvi":0.415},{"date":"20220602","bs":-10.3,"ndvi":0.403},{"date":"20220602","bs":-13.25,"ndvi":0.404},{"date":"20220602","bs":-12.67,"ndvi":0.398},{"date":"20220602","bs":-12.78,"ndvi":0.37},{"date":"20220602","bs":-12.59,"ndvi":0.349},{"date":"20220602","bs":-11.79,"ndvi":0.379},{"date":"20220602","bs":-11.23,"ndvi":0.379},{"date":"20220602","bs":-11.77,"ndvi":0.337},{"date":"20220602","bs":-11.07,"ndvi":0.319},{"date":"20220602","bs":-11.24,"ndvi":0.309},{"date":"20220602","bs":-11.49,"ndvi":0.308},{"date":"20220602","bs":-10.84,"ndvi":0.295},{"date":"20220602","bs":-11.1,"ndvi":0.295},{"date":"20220602","bs":-10.84,"ndvi":0.275},{"date":"20220602","bs":-10.26,"ndvi":0.33},{"date":"20220602","bs":-10.18,"ndvi":0.344},{"date":"20220602","bs":-9.95,"ndvi":0.37},{"date":"20220602","bs":-9.92,"ndvi":0.379},{"date":"20220602","bs":-10.11,"ndvi":0.29},{"date":"20220602","bs":-9.74,"ndvi":0.302},{"date":"20220602","bs":-8.6,"ndvi":0.347},{"date":"20220602","bs":-8.6,"ndvi":0.328},{"date":"20220602","bs":-8.4,"ndvi":0.316},{"date":"20220602","bs":-8.2,"ndvi":0.341},{"date":"20220602","bs":-8.24,"ndvi":0.386},{"date":"20220602","bs":-8.04,"ndvi":0.316},{"date":"20220602","bs":-8.04,"ndvi":0.309},{"date":"20220602","bs":-7.8,"ndvi":0.29},{"date":"20220602","bs":-7.47,"ndvi":0.373},{"date":"20220602","bs":-7.0,"ndvi":0.325},{"date":"20220602","bs":-7.08,"ndvi":0.304},{"date":"20220602","bs":-6.69,"ndvi":0.303},{"date":"20220602","bs":-6.38,"ndvi":0.33},{"date":"20220602","bs":-5.95,"ndvi":0.347},{"date":"20220602","bs":-4.7,"ndvi":0.337},{"date":"20220602","bs":-4.86,"ndvi":0.3},{"date":"20220602","bs":-6.71,"ndvi":0.264},{"date":"20220602","bs":-9.18,"ndvi":0.251},{"date":"20220602","bs":-8.91,"ndvi":0.235},{"date":"20220602","bs":-8.15,"ndvi":0.25},{"date":"20220602","bs":-7.5,"ndvi":0.235},{"date":"20220602","bs":-5.89,"ndvi":0.237},{"date":"20220602","bs":-9.18,"ndvi":0.219},{"date":"20220602","bs":-8.6,"ndvi":0.219},{"date":"20220602","bs":-9.02,"ndvi":0.202},{"date":"20220602","bs":-8.63,"ndvi":0.193},{"date":"20220602","bs":-8.27,"ndvi":0.198},{"date":"20220602","bs":-7.03,"ndvi":0.202},{"date":"20220602","bs":-7.0,"ndvi":0.212},{"date":"20220602","bs":-5.81,"ndvi":0.196},{"date":"20220602","bs":-4.7,"ndvi":0.216},{"date":"20220602","bs":-4.47,"ndvi":0.195},{"date":"20220602","bs":-3.87,"ndvi":0.225},{"date":"20220602","bs":-9.64,"ndvi":0.176},{"date":"20220602","bs":-9.41,"ndvi":0.183},{"date":"20220602","bs":-8.99,"ndvi":0.16},{"date":"20220602","bs":-8.87,"ndvi":0.163},{"date":"20220602","bs":-10.12,"ndvi":0.247},{"date":"20220602","bs":-10.68,"ndvi":0.248},{"date":"20220602","bs":-10.5,"ndvi":0.25},{"date":"20220602","bs":-11.24,"ndvi":0.247},{"date":"20220602","bs":-10.37,"ndvi":0.214},{"date":"20220602","bs":-10.41,"ndvi":0.21},{"date":"20220602","bs":-10.14,"ndvi":0.204},{"date":"20220602","bs":-10.82,"ndvi":0.204},{"date":"20220602","bs":-12.61,"ndvi":0.253},{"date":"20220602","bs":-12.83,"ndvi":0.238},{"date":"20220602","bs":-12.87,"ndvi":0.219},{"date":"20220602","bs":-12.53,"ndvi":0.204},{"date":"20220602","bs":-12.16,"ndvi":0.18},{"date":"20220602","bs":-14.5,"ndvi":0.229},{"date":"20220602","bs":-14.58,"ndvi":0.202},{"date":"20220602","bs":-14.95,"ndvi":0.198},{"date":"20220602","bs":-14.04,"ndvi":0.206},{"date":"20220602","bs":-13.8,"ndvi":0.209},
{"date":"20220121","bs":-16.34,"ndvi":0.751},{"date":"20220121","bs":-16.3,"ndvi":0.694},{"date":"20220121","bs":-15.64,"ndvi":0.678},{"date":"20220121","bs":-15.64,"ndvi":0.642},{"date":"20220121","bs":-16.61,"ndvi":0.638},{"date":"20220121","bs":-16.54,"ndvi":0.533},{"date":"20220121","bs":-16.12,"ndvi":0.571},{"date":"20220121","bs":-15.82,"ndvi":0.562},{"date":"20220121","bs":-15.54,"ndvi":0.538},{"date":"20220121","bs":-15.02,"ndvi":0.527},{"date":"20220121","bs":-15.93,"ndvi":0.5},{"date":"20220121","bs":-16.02,"ndvi":0.49},{"date":"20220121","bs":-14.86,"ndvi":0.45},{"date":"20220121","bs":-14.66,"ndvi":0.444},{"date":"20220121","bs":-13.48,"ndvi":0.415},{"date":"20220121","bs":-12.97,"ndvi":0.414},{"date":"20220121","bs":-14.69,"ndvi":0.382},{"date":"20220121","bs":-13.94,"ndvi":0.392},{"date":"20220121","bs":-13.63,"ndvi":0.357},{"date":"20220121","bs":-14.7,"ndvi":0.341},{"date":"20220121","bs":-14.75,"ndvi":0.338},{"date":"20220121","bs":-16.55,"ndvi":0.385},{"date":"20220121","bs":-17.31,"ndvi":0.315},{"date":"20220121","bs":-16.43,"ndvi":0.3},{"date":"20220121","bs":-14.19,"ndvi":0.308},{"date":"20220121","bs":-13.76,"ndvi":0.308},{"date":"20220121","bs":-13.94,"ndvi":0.299},{"date":"20220121","bs":-13.46,"ndvi":0.283},{"date":"20220121","bs":-15.36,"ndvi":0.294},{"date":"20220121","bs":-15.2,"ndvi":0.264},{"date":"20220121","bs":-15.53,"ndvi":0.256},{"date":"20220121","bs":-15.53,"ndvi":0.237},{"date":"20220121","bs":-10.82,"ndvi":0.442},{"date":"20220121","bs":-10.33,"ndvi":0.488}
 ]},
 "mark":{"type":"point","filled":true,"opacity":1,"stroke":"white","strokeWidth":0.6},
 "encoding":{
  "x":{"field":"bs","type":"quantitative","scale":{"domain":[-22.5,-2.5],"nice":false,"zero":false},"axis":{"title":"backscatter [dB]","values":[-22.5,-20,-17.5,-15,-12.5,-10,-7.5,-5,-2.5],"format":".1f"}},
  "y":{"field":"ndvi","type":"quantitative","scale":{"domain":[0.1,1.0],"nice":false,"zero":false},"axis":{"title":"NDVI","values":[0.1,0.2,0.3,0.4,0.5,0.6,0.7,0.8,0.9,1.0],"format":".1f"}},
  "color":{"field":"date","type":"nominal","title":"date","scale":{"domain":["20210806","20220602","20220121"],"range":["#4c72b0","#dd8452","#55a868"]},"legend":{"orient":"none","legendX":315,"legendY":120}},
  "shape":{"field":"date","type":"nominal","title":"date","scale":{"domain":["20210806","20220602","20220121"],"range":["circle","M-0.6,-1L0,-0.4L0.6,-1L1,-0.6L0.4,0L1,0.6L0.6,1L0,0.4L-0.6,1L-1,0.6L-0.4,0L-1,-0.6Z","square"]},"legend":{"orient":"none","legendX":315,"legendY":120}},
  "size":{"field":"date","type":"nominal","title":"date","scale":{"domain":["20210806","20220602","20220121"],"range":[44,30,18]},"legend":{"orient":"none","legendX":315,"legendY":120}}
 }
}
],"spacing":33,
"resolve":{"scale":{"color":"independent","shape":"independent","size":"independent"},"legend":{"color":"independent","shape":"independent","size":"independent"}}},
{"hconcat":[
{"width":214,"height":10,"view":{"stroke":null},"data":{"values":[]},"mark":{"type":"point","opacity":0},"encoding":{}},
{"title":{"text":"(c) cross-ratio VV/VH","dx":-14},"width":445,"height":317,
 "data":{"values":[
{"date":"20210806","cr":3.8,"ndvi":0.962},{"date":"20210806","cr":3.92,"ndvi":0.939},{"date":"20210806","cr":4.09,"ndvi":0.922},{"date":"20210806","cr":4.17,"ndvi":0.913},{"date":"20210806","cr":4.46,"ndvi":0.937},{"date":"20210806","cr":4.55,"ndvi":0.943},{"date":"20210806","cr":4.61,"ndvi":0.899},{"date":"20210806","cr":4.75,"ndvi":0.967},{"date":"20210806","cr":4.86,"ndvi":0.908},{"date":"20210806","cr":4.91,"ndvi":0.939},{"date":"20210806","cr":4.99,"ndvi":0.835},{"date":"20210806","cr":4.94,"ndvi":0.808},{"date":"20210806","cr":5.1,"ndvi":0.745},{"date":"20210806","cr":5.13,"ndvi":0.908},{"date":"20210806","cr":5.21,"ndvi":0.861},{"date":"20210806","cr":5.27,"ndvi":0.931},{"date":"20210806","cr":5.3,"ndvi":0.957},{"date":"20210806","cr":5.32,"ndvi":0.939},{"date":"20210806","cr":5.46,"ndvi":0.96},{"date":"20210806","cr":5.51,"ndvi":0.887},{"date":"20210806","cr":5.54,"ndvi":0.908},{"date":"20210806","cr":5.62,"ndvi":0.929},{"date":"20210806","cr":5.6,"ndvi":0.768},{"date":"20210806","cr":5.64,"ndvi":0.832},{"date":"20210806","cr":5.76,"ndvi":0.943},{"date":"20210806","cr":5.82,"ndvi":0.91},{"date":"20210806","cr":5.78,"ndvi":0.803},{"date":"20210806","cr":5.87,"ndvi":0.863},{"date":"20210806","cr":5.82,"ndvi":0.934},{"date":"20210806","cr":5.94,"ndvi":0.803},{"date":"20210806","cr":6.09,"ndvi":0.951},{"date":"20210806","cr":6.06,"ndvi":0.896},{"date":"20210806","cr":6.17,"ndvi":0.887},{"date":"20210806","cr":6.18,"ndvi":0.87},{"date":"20210806","cr":6.02,"ndvi":0.759},{"date":"20210806","cr":6.14,"ndvi":0.74},{"date":"20210806","cr":6.32,"ndvi":0.756},{"date":"20210806","cr":6.32,"ndvi":0.863},{"date":"20210806","cr":6.46,"ndvi":0.863},{"date":"20210806","cr":6.42,"ndvi":0.934},{"date":"20210806","cr":6.54,"ndvi":0.953},{"date":"20210806","cr":6.64,"ndvi":0.891},{"date":"20210806","cr":6.71,"ndvi":0.877},{"date":"20210806","cr":6.78,"ndvi":0.934},{"date":"20210806","cr":6.84,"ndvi":0.889},{"date":"20210806","cr":6.94,"ndvi":0.856},{"date":"20210806","cr":6.9,"ndvi":0.815},{"date":"20210806","cr":7.08,"ndvi":0.871},{"date":"20210806","cr":7.14,"ndvi":0.803},{"date":"20210806","cr":7.17,"ndvi":0.91},{"date":"20210806","cr":7.23,"ndvi":0.822},{"date":"20210806","cr":7.3,"ndvi":0.82},{"date":"20210806","cr":7.36,"ndvi":0.904},{"date":"20210806","cr":7.38,"ndvi":0.765},{"date":"20210806","cr":7.52,"ndvi":0.783},{"date":"20210806","cr":7.54,"ndvi":0.836},{"date":"20210806","cr":7.67,"ndvi":0.887},{"date":"20210806","cr":7.74,"ndvi":0.888},{"date":"20210806","cr":7.89,"ndvi":0.781},{"date":"20210806","cr":8.02,"ndvi":0.868},{"date":"20210806","cr":8.35,"ndvi":0.815},{"date":"20210806","cr":8.49,"ndvi":0.939},{"date":"20210806","cr":6.68,"ndvi":0.732},{"date":"20210806","cr":6.74,"ndvi":0.718},{"date":"20210806","cr":6.79,"ndvi":0.771},{"date":"20210806","cr":6.97,"ndvi":0.655},{"date":"20210806","cr":7.08,"ndvi":0.711},{"date":"20210806","cr":7.41,"ndvi":0.658},{"date":"20210806","cr":7.87,"ndvi":0.711},{"date":"20210806","cr":8.07,"ndvi":0.718},{"date":"20210806","cr":9.02,"ndvi":0.707},{"date":"20210806","cr":5.41,"ndvi":0.662},{"date":"20210806","cr":4.47,"ndvi":0.683},{"date":"20210806","cr":6.64,"ndvi":0.643},{"date":"20210806","cr":6.38,"ndvi":0.601},{"date":"20210806","cr":6.07,"ndvi":0.592},{"date":"20210806","cr":5.76,"ndvi":0.591},{"date":"20210806","cr":5.87,"ndvi":0.584},{"date":"20210806","cr":5.72,"ndvi":0.54},{"date":"20210806","cr":5.7,"ndvi":0.539},{"date":"20210806","cr":7.28,"ndvi":0.588},{"date":"20210806","cr":7.47,"ndvi":0.559},{"date":"20210806","cr":7.72,"ndvi":0.562},{"date":"20210806","cr":7.81,"ndvi":0.565},{"date":"20210806","cr":7.94,"ndvi":0.558},{"date":"20210806","cr":8.65,"ndvi":0.599},{"date":"20210806","cr":9.23,"ndvi":0.592},{"date":"20210806","cr":9.24,"ndvi":0.578},{"date":"20210806","cr":9.73,"ndvi":0.532},{"date":"20210806","cr":9.84,"ndvi":0.503},{"date":"20210806","cr":9.51,"ndvi":0.484},{"date":"20210806","cr":10.08,"ndvi":0.455},{"date":"20210806","cr":10.49,"ndvi":0.437},{"date":"20210806","cr":10.98,"ndvi":0.412},{"date":"20210806","cr":11.5,"ndvi":0.425},{"date":"20210806","cr":12.52,"ndvi":0.336},{"date":"20210806","cr":13.33,"ndvi":0.331},{"date":"20210806","cr":14.17,"ndvi":0.251},{"date":"20210806","cr":14.24,"ndvi":0.251},{"date":"20210806","cr":13.61,"ndvi":0.217},{"date":"20210806","cr":12.77,"ndvi":0.206},{"date":"20210806","cr":13.0,"ndvi":0.179},{"date":"20210806","cr":14.26,"ndvi":0.206},{"date":"20210806","cr":14.87,"ndvi":0.151},{"date":"20210806","cr":15.81,"ndvi":0.165},{"date":"20210806","cr":16.04,"ndvi":0.161},{"date":"20210806","cr":16.84,"ndvi":0.204},{"date":"20210806","cr":17.13,"ndvi":0.161},{"date":"20210806","cr":7.28,"ndvi":0.488},{"date":"20210806","cr":7.48,"ndvi":0.449},{"date":"20210806","cr":7.43,"ndvi":0.403},{"date":"20210806","cr":5.88,"ndvi":0.428},{"date":"20210806","cr":6.1,"ndvi":0.366},{"date":"20210806","cr":7.06,"ndvi":0.38},{"date":"20210806","cr":7.43,"ndvi":0.353},{"date":"20210806","cr":7.5,"ndvi":0.317},{"date":"20210806","cr":8.1,"ndvi":0.35},{"date":"20210806","cr":8.16,"ndvi":0.338},{"date":"20210806","cr":8.41,"ndvi":0.376},{"date":"20210806","cr":8.48,"ndvi":0.409},{"date":"20210806","cr":10.2,"ndvi":0.355},{"date":"20210806","cr":10.31,"ndvi":0.329},{"date":"20210806","cr":7.61,"ndvi":0.258},{"date":"20210806","cr":7.96,"ndvi":0.27},{"date":"20210806","cr":8.11,"ndvi":0.296},{"date":"20210806","cr":9.24,"ndvi":0.266},{"date":"20210806","cr":8.8,"ndvi":0.187},{"date":"20210806","cr":8.65,"ndvi":0.164},{"date":"20210806","cr":9.68,"ndvi":0.204},{"date":"20210806","cr":10.12,"ndvi":0.213},{"date":"20210806","cr":10.26,"ndvi":0.23},{"date":"20210806","cr":10.44,"ndvi":0.223},
{"date":"20220602","cr":4.48,"ndvi":0.763},{"date":"20220602","cr":4.73,"ndvi":0.658},{"date":"20220602","cr":4.84,"ndvi":0.712},{"date":"20220602","cr":5.0,"ndvi":0.709},{"date":"20220602","cr":5.0,"ndvi":0.865},{"date":"20220602","cr":5.16,"ndvi":0.896},{"date":"20220602","cr":5.24,"ndvi":0.658},{"date":"20220602","cr":5.43,"ndvi":0.681},{"date":"20220602","cr":5.12,"ndvi":0.376},{"date":"20220602","cr":5.43,"ndvi":0.934},{"date":"20220602","cr":5.41,"ndvi":0.853},{"date":"20220602","cr":5.54,"ndvi":0.846},{"date":"20220602","cr":5.65,"ndvi":0.887},{"date":"20220602","cr":5.82,"ndvi":0.909},{"date":"20220602","cr":5.87,"ndvi":0.844},{"date":"20220602","cr":5.93,"ndvi":0.853},{"date":"20220602","cr":5.98,"ndvi":0.889},{"date":"20220602","cr":6.06,"ndvi":0.858},{"date":"20220602","cr":6.26,"ndvi":0.934},{"date":"20220602","cr":6.31,"ndvi":0.918},{"date":"20220602","cr":6.71,"ndvi":0.909},{"date":"20220602","cr":7.11,"ndvi":0.926},{"date":"20220602","cr":7.28,"ndvi":0.856},{"date":"20220602","cr":7.33,"ndvi":0.939},{"date":"20220602","cr":7.47,"ndvi":0.863},{"date":"20220602","cr":7.52,"ndvi":0.904},{"date":"20220602","cr":7.72,"ndvi":0.918},{"date":"20220602","cr":7.63,"ndvi":0.792},{"date":"20220602","cr":8.02,"ndvi":0.79},{"date":"20220602","cr":8.33,"ndvi":0.877},{"date":"20220602","cr":8.59,"ndvi":0.871},{"date":"20220602","cr":6.93,"ndvi":0.705},{"date":"20220602","cr":7.24,"ndvi":0.707},{"date":"20220602","cr":7.52,"ndvi":0.676},{"date":"20220602","cr":6.74,"ndvi":0.672},{"date":"20220602","cr":7.05,"ndvi":0.638},{"date":"20220602","cr":6.99,"ndvi":0.622},{"date":"20220602","cr":6.93,"ndvi":0.615},{"date":"20220602","cr":6.44,"ndvi":0.625},{"date":"20220602","cr":6.47,"ndvi":0.578},{"date":"20220602","cr":6.62,"ndvi":0.576},{"date":"20220602","cr":8.31,"ndvi":0.688},{"date":"20220602","cr":8.66,"ndvi":0.69},{"date":"20220602","cr":9.26,"ndvi":0.666},{"date":"20220602","cr":8.85,"ndvi":0.64},{"date":"20220602","cr":8.96,"ndvi":0.617},{"date":"20220602","cr":8.6,"ndvi":0.624},{"date":"20220602","cr":8.89,"ndvi":0.593},{"date":"20220602","cr":8.03,"ndvi":0.608},{"date":"20220602","cr":9.87,"ndvi":0.655},{"date":"20220602","cr":9.55,"ndvi":0.576},{"date":"20220602","cr":9.37,"ndvi":0.532},{"date":"20220602","cr":9.62,"ndvi":0.52},{"date":"20220602","cr":9.62,"ndvi":0.475},{"date":"20220602","cr":10.04,"ndvi":0.48},{"date":"20220602","cr":10.56,"ndvi":0.529},{"date":"20220602","cr":10.35,"ndvi":0.403},{"date":"20220602","cr":7.3,"ndvi":0.48},{"date":"20220602","cr":7.34,"ndvi":0.482},{"date":"20220602","cr":7.15,"ndvi":0.428},{"date":"20220602","cr":7.56,"ndvi":0.416},{"date":"20220602","cr":6.73,"ndvi":0.397},{"date":"20220602","cr":7.52,"ndvi":0.369},{"date":"20220602","cr":8.01,"ndvi":0.367},{"date":"20220602","cr":8.3,"ndvi":0.345},{"date":"20220602","cr":8.48,"ndvi":0.348},{"date":"20220602","cr":8.48,"ndvi":0.329},{"date":"20220602","cr":7.61,"ndvi":0.307},{"date":"20220602","cr":7.85,"ndvi":0.296},{"date":"20220602","cr":7.87,"ndvi":0.286},{"date":"20220602","cr":8.33,"ndvi":0.289},{"date":"20220602","cr":8.68,"ndvi":0.296},{"date":"20220602","cr":8.77,"ndvi":0.308},{"date":"20220602","cr":8.96,"ndvi":0.314},{"date":"20220602","cr":9.13,"ndvi":0.319},{"date":"20220602","cr":9.23,"ndvi":0.307},{"date":"20220602","cr":9.2,"ndvi":0.359},{"date":"20220602","cr":9.55,"ndvi":0.378},{"date":"20220602","cr":6.6,"ndvi":0.269},{"date":"20220602","cr":7.35,"ndvi":0.246},{"date":"20220602","cr":8.2,"ndvi":0.247},{"date":"20220602","cr":8.35,"ndvi":0.248},{"date":"20220602","cr":8.88,"ndvi":0.251},{"date":"20220602","cr":9.47,"ndvi":0.26},{"date":"20220602","cr":8.19,"ndvi":0.204},{"date":"20220602","cr":8.43,"ndvi":0.203},{"date":"20220602","cr":8.5,"ndvi":0.192},{"date":"20220602","cr":9.26,"ndvi":0.198},{"date":"20220602","cr":9.31,"ndvi":0.211},{"date":"20220602","cr":9.66,"ndvi":0.22},{"date":"20220602","cr":9.95,"ndvi":0.213},{"date":"20220602","cr":10.26,"ndvi":0.213},{"date":"20220602","cr":10.39,"ndvi":0.208},{"date":"20220602","cr":10.57,"ndvi":0.246},{"date":"20220602","cr":10.69,"ndvi":0.336},{"date":"20220602","cr":11.08,"ndvi":0.379},{"date":"20220602","cr":11.45,"ndvi":0.406},{"date":"20220602","cr":11.43,"ndvi":0.369},{"date":"20220602","cr":11.4,"ndvi":0.317},{"date":"20220602","cr":10.89,"ndvi":0.206},{"date":"20220602","cr":11.27,"ndvi":0.175},{"date":"20220602","cr":11.61,"ndvi":0.22},{"date":"20220602","cr":11.95,"ndvi":0.208},{"date":"20220602","cr":12.18,"ndvi":0.265},{"date":"20220602","cr":12.26,"ndvi":0.182},{"date":"20220602","cr":12.28,"ndvi":0.336},{"date":"20220602","cr":12.38,"ndvi":0.371},{"date":"20220602","cr":12.47,"ndvi":0.386},{"date":"20220602","cr":13.03,"ndvi":0.348},{"date":"20220602","cr":13.0,"ndvi":0.327},{"date":"20220602","cr":13.28,"ndvi":0.341},{"date":"20220602","cr":13.22,"ndvi":0.308},{"date":"20220602","cr":13.49,"ndvi":0.302},{"date":"20220602","cr":13.58,"ndvi":0.302},{"date":"20220602","cr":13.88,"ndvi":0.291},{"date":"20220602","cr":13.91,"ndvi":0.346},{"date":"20220602","cr":13.88,"ndvi":0.251},{"date":"20220602","cr":13.28,"ndvi":0.239},{"date":"20220602","cr":13.71,"ndvi":0.234},{"date":"20220602","cr":13.09,"ndvi":0.213},{"date":"20220602","cr":12.87,"ndvi":0.203},{"date":"20220602","cr":13.33,"ndvi":0.201},{"date":"20220602","cr":13.11,"ndvi":0.157},{"date":"20220602","cr":12.81,"ndvi":0.18},{"date":"20220602","cr":13.8,"ndvi":0.201},{"date":"20220602","cr":13.79,"ndvi":0.195},{"date":"20220602","cr":14.37,"ndvi":0.212},{"date":"20220602","cr":14.54,"ndvi":0.195},{"date":"20220602","cr":14.74,"ndvi":0.225},{"date":"20220602","cr":14.99,"ndvi":0.215},{"date":"20220602","cr":15.15,"ndvi":0.298},{"date":"20220602","cr":15.16,"ndvi":0.237},{"date":"20220602","cr":15.57,"ndvi":0.236},{"date":"20220602","cr":15.7,"ndvi":0.335},{"date":"20220602","cr":15.89,"ndvi":0.201},{"date":"20220602","cr":16.49,"ndvi":0.194},
{"date":"20220121","cr":9.57,"ndvi":0.749},{"date":"20220121","cr":9.34,"ndvi":0.693},{"date":"20220121","cr":10.17,"ndvi":0.677},{"date":"20220121","cr":10.26,"ndvi":0.641},{"date":"20220121","cr":6.98,"ndvi":0.638},{"date":"20220121","cr":7.12,"ndvi":0.56},{"date":"20220121","cr":7.25,"ndvi":0.57},{"date":"20220121","cr":7.44,"ndvi":0.537},{"date":"20220121","cr":7.55,"ndvi":0.527},{"date":"20220121","cr":9.17,"ndvi":0.532},{"date":"20220121","cr":8.32,"ndvi":0.499},{"date":"20220121","cr":6.73,"ndvi":0.487},{"date":"20220121","cr":7.43,"ndvi":0.489},{"date":"20220121","cr":8.63,"ndvi":0.449},{"date":"20220121","cr":8.74,"ndvi":0.444},{"date":"20220121","cr":8.8,"ndvi":0.417},{"date":"20220121","cr":6.75,"ndvi":0.44},{"date":"20220121","cr":9.66,"ndvi":0.414},{"date":"20220121","cr":9.74,"ndvi":0.391},{"date":"20220121","cr":7.74,"ndvi":0.381},{"date":"20220121","cr":9.4,"ndvi":0.342},{"date":"20220121","cr":9.48,"ndvi":0.314},{"date":"20220121","cr":10.55,"ndvi":0.299},{"date":"20220121","cr":10.74,"ndvi":0.293},{"date":"20220121","cr":10.98,"ndvi":0.308},{"date":"20220121","cr":10.83,"ndvi":0.384},{"date":"20220121","cr":11.74,"ndvi":0.298},{"date":"20220121","cr":11.8,"ndvi":0.282},{"date":"20220121","cr":12.09,"ndvi":0.308},{"date":"20220121","cr":12.67,"ndvi":0.357},{"date":"20220121","cr":10.92,"ndvi":0.257},{"date":"20220121","cr":11.16,"ndvi":0.263},{"date":"20220121","cr":10.34,"ndvi":0.236}
 ]},
 "mark":{"type":"point","filled":true,"opacity":1,"stroke":"white","strokeWidth":0.6},
 "encoding":{
  "x":{"field":"cr","type":"quantitative","scale":{"domain":[3.1,17.8],"nice":false,"zero":false},"axis":{"title":"cross-ratio [dB]","values":[4,6,8,10,12,14,16],"format":"d"}},
  "y":{"field":"ndvi","type":"quantitative","scale":{"domain":[0.1,1.0],"nice":false,"zero":false},"axis":{"title":"NDVI","values":[0.1,0.2,0.3,0.4,0.5,0.6,0.7,0.8,0.9,1.0],"format":".1f"}},
  "color":{"field":"date","type":"nominal","title":"date","scale":{"domain":["20210806","20220602","20220121"],"range":["#4c72b0","#dd8452","#55a868"]},"legend":{"orient":"top-right","offset":6}},
  "shape":{"field":"date","type":"nominal","title":"date","scale":{"domain":["20210806","20220602","20220121"],"range":["circle","M-0.6,-1L0,-0.4L0.6,-1L1,-0.6L0.4,0L1,0.6L0.6,1L0,0.4L-0.6,1L-1,0.6L-0.4,0L-1,-0.6Z","square"]},"legend":{"orient":"top-right","offset":6}},
  "size":{"field":"date","type":"nominal","title":"date","scale":{"domain":["20210806","20220602","20220121"],"range":[44,30,18]},"legend":{"orient":"top-right","offset":6}}
 }
}
],"spacing":0,
"resolve":{"scale":{"color":"independent","shape":"independent","size":"independent"},"legend":{"color":"independent","shape":"independent","size":"independent"}}}
]
}
